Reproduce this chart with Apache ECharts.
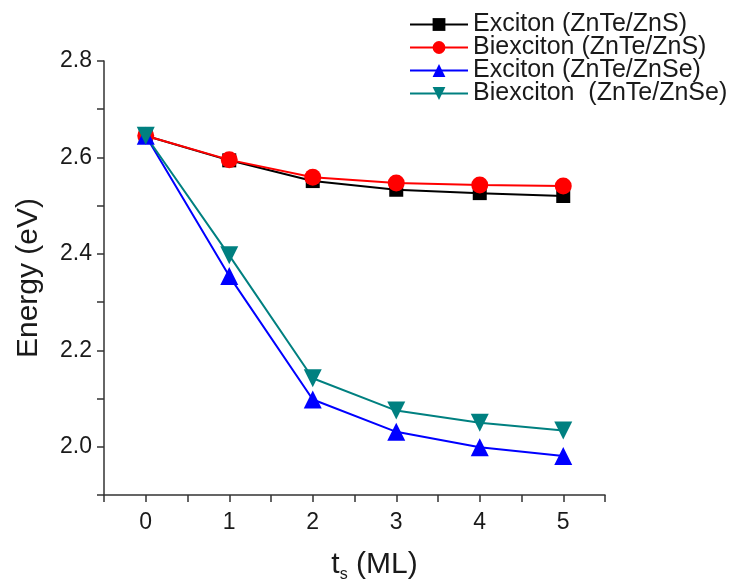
<!DOCTYPE html>
<html>
<head>
<meta charset="utf-8">
<script src="https://cdn.jsdelivr.net/npm/echarts@6/dist/echarts.min.js"></script>
<style>
  html, body { margin: 0; padding: 0; background: #fff; }
  #chart { width: 734px; height: 583px; }
</style>
</head>
<body>
<div id="chart"></div>
<script>
const thickness = [0, 1, 2, 3, 4, 5]
const excitonZnS = [2.645, 2.594, 2.551, 2.533, 2.526, 2.520]
const biexcitonZnS = [2.645, 2.595, 2.559, 2.547, 2.543, 2.541]
const excitonZnSe = [2.645, 2.354, 2.098, 2.031, 1.999, 1.981]
const biexcitonZnSe = [2.645, 2.397, 2.142, 2.075, 2.050, 2.034]

const FONT = 'Liberation Sans, Arial, sans-serif'
const TEXT = '#1a1a1a'
const AXIS = '#333'

const pairs = (ys) => thickness.map((x, i) => [x, ys[i]])

const makeSeries = (name, ys, color, symbol, size, rotate) => ({
  name,
  type: 'line',
  data: pairs(ys),
  symbol,
  symbolSize: size,
  symbolRotate: rotate || 0,
  showSymbol: true,
  lineStyle: { color, width: 2 },
  itemStyle: { color },
  emphasis: { disabled: true },
  animation: false,
})

const chart = echarts.init(document.getElementById('chart'))

chart.setOption({
  backgroundColor: '#fff',
  textStyle: { fontFamily: FONT },
  grid: {
    left: 104,
    right: 129,
    top: 61,
    bottom: 88,
    containLabel: false,
    outerBoundsMode: 'none',
  },
  legend: {
    orient: 'vertical',
    left: 404,
    top: 7,
    itemWidth: 58,
    itemHeight: 16,
    itemGap: -2,
    textStyle: { fontSize: 25, color: TEXT, fontFamily: FONT },
    data: [
      'Exciton (ZnTe/ZnS)',
      'Biexciton (ZnTe/ZnS)',
      'Exciton (ZnTe/ZnSe)',
      'Biexciton  (ZnTe/ZnSe)',
    ],
  },
  xAxis: {
    type: 'value',
    min: -0.5,
    max: 5.5,
    interval: 0.5,
    name: 't{sub|s} (ML)',
    nameLocation: 'middle',
    nameGap: 52,
    nameTextStyle: {
      fontSize: 30,
      color: TEXT,
      padding: [0, 0, 0, 40],
      rich: { sub: { fontSize: 16, verticalAlign: 'bottom', padding: [20, 0, 0, 0] } },
    },
    axisLine: { onZero: false, lineStyle: { color: AXIS, width: 1.5 } },
    axisTick: { inside: false, length: 7, lineStyle: { color: AXIS, width: 1.5 } },
    splitLine: { show: false },
    axisLabel: {
      fontSize: 23,
      color: TEXT,
      margin: 16,
      showMinLabel: true,
      showMaxLabel: true,
      formatter: (v) => (Math.abs(v - Math.round(v)) < 1e-6 ? String(Math.round(v)) : ''),
    },
  },
  yAxis: {
    type: 'value',
    min: 1.9,
    max: 2.8,
    interval: 0.1,
    name: 'Energy (eV)',
    nameLocation: 'middle',
    nameGap: 60,
    nameTextStyle: { fontSize: 30, color: TEXT },
    axisLine: { show: true, onZero: false, lineStyle: { color: AXIS, width: 1.5 } },
    axisTick: { show: true, inside: false, length: 7, lineStyle: { color: AXIS, width: 1.5 } },
    splitLine: { show: false },
    axisLabel: {
      fontSize: 23,
      color: TEXT,
      margin: 12,
      formatter: (v) => {
        const k = Math.round(v * 10)
        return k % 2 === 0 ? v.toFixed(1) : ''
      },
    },
  },
  series: [
    makeSeries('Exciton (ZnTe/ZnS)', excitonZnS, '#000000', 'rect', 14),
    makeSeries('Biexciton (ZnTe/ZnS)', biexcitonZnS, '#ff0000', 'circle', 17),
    makeSeries('Exciton (ZnTe/ZnSe)', excitonZnSe, '#0000ff', 'triangle', 18),
    makeSeries('Biexciton  (ZnTe/ZnSe)', biexcitonZnSe, '#008080', 'triangle', 18, 180),
  ],
})
</script>
</body>
</html>
